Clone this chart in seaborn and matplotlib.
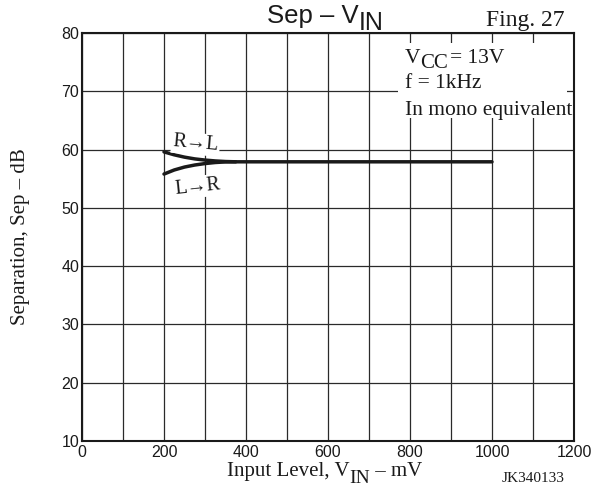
import matplotlib
matplotlib.use("Agg")
import matplotlib.pyplot as plt
from matplotlib.patches import Rectangle
import seaborn as sns
import pandas as pd

# Data
x_r2l = [200, 225, 250, 275, 300, 325, 350, 375, 400, 500, 600, 700, 800, 900, 1000]
y_r2l = [59.6, 59.1, 58.7, 58.4, 58.2, 58.05, 57.95, 57.9, 57.9, 57.9, 57.9, 57.9, 57.9, 57.9, 57.9]
x_l2r = [200, 225, 250, 275, 300, 325, 350, 375]
y_l2r = [55.8, 56.5, 57.0, 57.35, 57.6, 57.78, 57.88, 57.9]
x_ticks = [0, 200, 400, 600, 800, 1000, 1200]
y_ticks = [10, 20, 30, 40, 50, 60, 70, 80]

sns.set_theme(style="white")
plt.rcParams['font.family'] = ['Liberation Sans', 'DejaVu Sans']

SERIF = ['Liberation Serif', 'DejaVu Serif']
SANS = ['Liberation Sans', 'DejaVu Sans']
INK = "#1a1a1a"

df = pd.concat([
    pd.DataFrame({"x": x_r2l, "y": y_r2l, "s": "R→L"}),
    pd.DataFrame({"x": x_l2r, "y": y_l2r, "s": "L→R"}),
])

fig = plt.figure(figsize=(5.96, 4.90), dpi=100)
ax = fig.add_axes([82 / 596, 1 - 441 / 490, 492 / 596, 408 / 490])
sns.lineplot(data=df, x="x", y="y", units="s", estimator=None, color=INK,
             linewidth=2.5, ax=ax, legend=False, zorder=5, sort=False)

ax.set_xlim(0, 1200)
ax.set_ylim(10, 80)
ax.set_xticks(range(0, 1201, 100))
ax.set_xticklabels([str(v) if v in x_ticks else "" for v in range(0, 1201, 100)])
ax.set_yticks(y_ticks)
ax.set_yticklabels([str(v) for v in y_ticks])
ax.grid(True, color="#2a2a2a", linewidth=0.9)
ax.set_axisbelow(True)
for s in ax.spines.values():
    s.set_color(INK)
    s.set_linewidth(1.5)
ax.tick_params(length=0, labelsize=11.5, colors=INK)
ax.tick_params(axis='x', pad=3)
ax.tick_params(axis='y', pad=2)
ax.set_xlabel("")
ax.set_ylabel("Separation, Sep – dB", family=SERIF, fontsize=15, color=INK)
ax.yaxis.set_label_coords(-0.105, 0.5)


def chain(first, parts):
    """Append text pieces to the right of `first`; each part = (text, dy_points, size)."""
    base = first
    prev = first
    for txt, dy, size in parts:
        t = ax.annotate(txt, xy=(1, 0), xycoords=(prev, base), xytext=(0, dy),
                        textcoords="offset points", va="bottom", ha="left",
                        fontsize=size, family=first.get_family(), color=INK,
                        zorder=7, annotation_clip=False)
        prev = t
    return prev


# Title
t = fig.text(267 / 596, 1 - 23 / 490, "Sep – V", fontsize=18.5, family=SANS,
             ha="left", va="baseline", color=INK)
chain(t, [("IN", -5, 18)])
fig.text(486 / 596, 1 - 26 / 490, "Fing. 27", fontsize=17, family=SERIF,
         ha="left", va="baseline", color=INK)
fig.text(564 / 596, 1 - 482 / 490, "JK340133", fontsize=11, family=SERIF,
         ha="right", va="baseline", color=INK)

# X label
t = fig.text(227 / 596, 1 - 476 / 490, "Input Level, V", fontsize=15, family=SERIF,
             ha="left", va="baseline", color=INK)
c = chain(t, [("IN", -4, 14)])
ax.annotate(" – mV", xy=(1, 0), xycoords=(c, t), xytext=(0, 0), textcoords="offset points",
            va="bottom", ha="left", fontsize=15, family=SERIF, color=INK, annotation_clip=False)

# Condition box
ax.add_patch(Rectangle((771, 65.4), 412, 12.8, facecolor="white", edgecolor="none", zorder=2))
t = ax.text(788, 74.8, "V", fontsize=15.5, family=SERIF, ha="left", va="baseline",
            color=INK, zorder=7)
c = chain(t, [("CC", -3.5, 15)])
ax.annotate("= 13V", xy=(1, 0), xycoords=(c, t), xytext=(1.5, 0), textcoords="offset points",
            va="bottom", ha="left", fontsize=15.5, family=SERIF, color=INK, zorder=7)
ax.text(788, 70.5, "f = 1kHz", fontsize=15.5, family=SERIF, ha="left", va="baseline",
        color=INK, zorder=7)
ax.text(788, 65.9, "In mono equivalent", fontsize=15.5, family=SERIF, ha="left",
        va="baseline", color=INK, zorder=7)

# Curve labels
ax.text(276, 60.2, "R→L", fontsize=14.5, family=SERIF, ha="center", va="baseline",
        color=INK, zorder=6, rotation=-5, rotation_mode="anchor",
        bbox=dict(facecolor="white", edgecolor="none", pad=1))
ax.text(283, 52.85, "L→R", fontsize=14.5, family=SERIF, ha="center", va="baseline",
        color=INK, zorder=6, rotation=6, rotation_mode="anchor",
        bbox=dict(facecolor="white", edgecolor="none", pad=1))

fig.savefig("out.png", dpi=100)
